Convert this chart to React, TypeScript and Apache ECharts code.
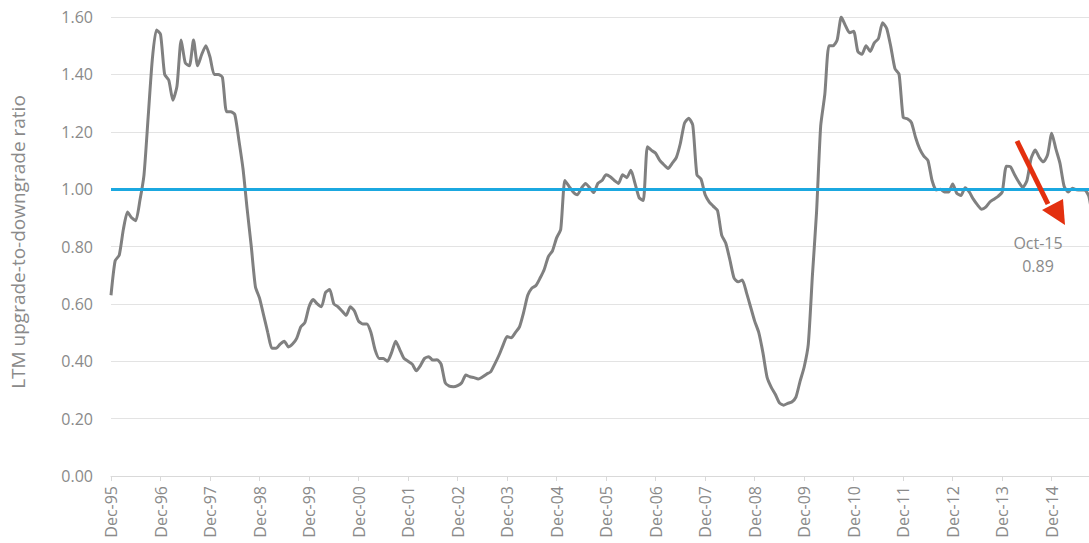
import React, { useEffect, useRef } from "react";
import * as echarts from "echarts";

// Monthly LTM upgrade-to-downgrade ratio, Dec-95 .. Oct-15
const monthNames = ["Jan", "Feb", "Mar", "Apr", "May", "Jun", "Jul", "Aug", "Sep", "Oct", "Nov", "Dec"];
const startYear = 1995; // first point: Dec-95
const pointCount = 239; // Dec-95 .. Oct-15

const ratio1996to1999 = [
  0.63, 0.75, 0.77, 0.86, 0.92, 0.90, 0.89, 0.96, 1.05, 1.25, 1.45, 1.555,
  1.54, 1.40, 1.38, 1.31, 1.36, 1.52, 1.44, 1.43, 1.52, 1.43, 1.47, 1.50,
  1.46, 1.40, 1.40, 1.39, 1.27, 1.27, 1.26, 1.17, 1.07, 0.93, 0.80, 0.66,
  0.62, 0.56, 0.50, 0.445, 0.445, 0.46, 0.47, 0.45, 0.46, 0.48, 0.52, 0.535,
];
const ratio2000to2003 = [
  0.59, 0.615, 0.60, 0.59, 0.64, 0.65, 0.60, 0.59, 0.575, 0.56, 0.59, 0.575,
  0.54, 0.53, 0.53, 0.50, 0.44, 0.41, 0.41, 0.40, 0.43, 0.47, 0.44, 0.41,
  0.40, 0.39, 0.367, 0.385, 0.41, 0.416, 0.404, 0.405, 0.39, 0.325, 0.313, 0.311,
  0.315, 0.325, 0.352, 0.346, 0.343, 0.338, 0.345, 0.355, 0.363, 0.39, 0.42, 0.455,
];
const ratio2004to2007 = [
  0.486, 0.482, 0.50, 0.52, 0.57, 0.63, 0.655, 0.664, 0.69, 0.72, 0.765, 0.785,
  0.83, 0.86, 1.03, 1.01, 0.99, 0.98, 1.003, 1.02, 1.005, 0.988, 1.02, 1.03,
  1.05, 1.043, 1.03, 1.02, 1.05, 1.04, 1.066, 1.02, 0.97, 0.96, 1.148, 1.135,
  1.125, 1.10, 1.085, 1.072, 1.09, 1.11, 1.16, 1.23, 1.247, 1.223, 1.05, 1.035,
];
const ratio2008to2011 = [
  0.98, 0.955, 0.94, 0.925, 0.84, 0.811, 0.753, 0.69, 0.677, 0.683, 0.64, 0.59,
  0.54, 0.50, 0.43, 0.345, 0.31, 0.285, 0.255, 0.247, 0.253, 0.258, 0.275, 0.33,
  0.38, 0.46, 0.70, 0.92, 1.22, 1.33, 1.50, 1.50, 1.52, 1.60, 1.57, 1.545,
  1.55, 1.48, 1.47, 1.50, 1.48, 1.51, 1.525, 1.58, 1.56, 1.496, 1.42, 1.40,
];
const ratio2012to2015 = [
  1.25, 1.245, 1.232, 1.18, 1.14, 1.115, 1.10, 1.03, 0.997, 1.0, 0.99, 0.99,
  1.018, 0.985, 0.978, 1.005, 0.99, 0.965, 0.945, 0.93, 0.937, 0.955, 0.965, 0.975,
  0.99, 1.08, 1.078, 1.05, 1.025, 1.006, 1.03, 1.107, 1.136, 1.11, 1.095, 1.12,
  1.195, 1.14, 1.09, 1.01, 0.99, 1.003, 0.998, 0.997, 0.997, 0.975, 0.89,
];

const ratioValues = [
  ...ratio1996to1999,
  ...ratio2000to2003,
  ...ratio2004to2007,
  ...ratio2008to2011,
  ...ratio2012to2015,
];

const monthLabels: string[] = [];
for (let i = 0; i < pointCount; i++) {
  const mIdx = (11 + i) % 12;
  const year = startYear + Math.floor((11 + i) / 12);
  monthLabels.push(monthNames[mIdx] + "-" + String(year % 100).padStart(2, "0"));
}

const yTicks = { min: 0, max: 1.6, interval: 0.2 };
const referenceLevel = 1.0;
const annotationLines = ["Oct-15", "0.89"];
const yAxisTitle = "LTM upgrade-to-downgrade ratio";

const FONT = "'Open Sans', 'Noto Sans', sans-serif";
const LABEL_COLOR = "#8a8a8a";

export default function App() {
  const ref = useRef<HTMLDivElement>(null);

  useEffect(() => {
    if (!ref.current) return;
    const chart = echarts.init(ref.current, null, { renderer: "svg" });
    chart.setOption({
      animation: false,
      backgroundColor: "#ffffff",
      textStyle: { fontFamily: FONT },
      grid: { left: 111, right: 0, top: 17, bottom: 67, containLabel: false },
      xAxis: {
        type: "category",
        data: monthLabels,
        boundaryGap: false,
        axisLine: { show: true, lineStyle: { color: "#d9d9d9", width: 1 } },
        axisTick: {
          show: true,
          interval: (i: number) => i % 12 === 0,
          length: 5,
          lineStyle: { color: "#d9d9d9" },
        },
        axisLabel: {
          interval: (i: number) => i % 12 === 0,
          rotate: 90,
          margin: 10,
          color: LABEL_COLOR,
          fontSize: 16,
          fontFamily: FONT,
        },
        splitLine: { show: false },
      },
      yAxis: {
        type: "value",
        min: yTicks.min,
        max: yTicks.max,
        interval: yTicks.interval,
        axisLine: { show: false },
        axisTick: { show: false },
        axisLabel: {
          formatter: (v: number) => v.toFixed(2),
          color: LABEL_COLOR,
          fontSize: 16,
          margin: 18,
          fontFamily: FONT,
        },
        splitLine: { show: true, lineStyle: { color: "#e3e3e3", width: 1 } },
      },
      series: [
        {
          type: "line",
          data: ratioValues,
          showSymbol: false,
          smooth: 0.2,
          lineStyle: { color: "#808080", width: 3 },
          z: 3,
          markLine: {
            silent: true,
            symbol: ["none", "none"],
            label: { show: false },
            lineStyle: { color: "#1ba8e0", width: 3, type: "solid" },
            data: [{ yAxis: referenceLevel }],
            z: 4,
          },
        },
      ],
      graphic: [
        {
          type: "text",
          x: 18,
          y: 242,
          rotation: Math.PI / 2,
          style: {
            text: yAxisTitle,
            fill: LABEL_COLOR,
            font: `19px ${FONT}`,
            align: "center",
            verticalAlign: "middle",
          },
        },
        {
          type: "line",
          shape: { x1: 1017, y1: 141, x2: 1048, y2: 204 },
          style: { stroke: "#e3300f", lineWidth: 5 },
          z: 10,
        },
        {
          type: "polygon",
          shape: { points: [[1042, 210], [1063, 199], [1065, 225]] },
          style: { fill: "#e3300f" },
          z: 10,
        },
        {
          type: "text",
          x: 1038,
          y: 243,
          style: {
            text: annotationLines[0],
            fill: LABEL_COLOR,
            font: `16px ${FONT}`,
            align: "center",
            verticalAlign: "middle",
          },
          z: 10,
        },
        {
          type: "text",
          x: 1038,
          y: 266,
          style: {
            text: annotationLines[1],
            fill: LABEL_COLOR,
            font: `16px ${FONT}`,
            align: "center",
            verticalAlign: "middle",
          },
          z: 10,
        },
      ],
    });
    return () => chart.dispose();
  }, []);

  return (
    <div
      style={{
        position: "fixed",
        left: 0,
        top: 0,
        width: 1089,
        height: 543,
        overflow: "hidden",
        background: "#ffffff",
      }}
    >
      <div ref={ref} style={{ width: 1093, height: 543 }} />
    </div>
  );
}
